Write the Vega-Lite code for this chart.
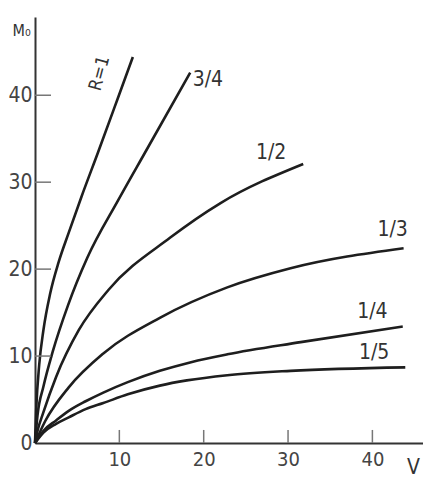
{
  "$schema": "https://vega.github.io/schema/vega-lite/v6.json",
  "width": 388,
  "height": 426,
  "autosize": {"type": "none"},
  "padding": {"left": 35, "top": 17, "right": 0, "bottom": 38},
  "background": "white",
  "config": {
    "view": {"stroke": null},
    "font": "DejaVu Sans Condensed, sans-serif"
  },
  "datasets": {
    "curves": [
      {"R": "1", "V": 0, "M": 0},
      {"R": "1", "V": 0.15, "M": 4},
      {"R": "1", "V": 0.5, "M": 9},
      {"R": "1", "V": 1.0, "M": 13},
      {"R": "1", "V": 1.8, "M": 17.2},
      {"R": "1", "V": 2.8, "M": 20.8},
      {"R": "1", "V": 4.0, "M": 24.2},
      {"R": "1", "V": 5.5, "M": 28.3},
      {"R": "1", "V": 7.5, "M": 33.5},
      {"R": "1", "V": 9.8, "M": 39.6},
      {"R": "1", "V": 11.6, "M": 44.4},
      {"R": "3/4", "V": 0, "M": 0},
      {"R": "3/4", "V": 0.3, "M": 3.2},
      {"R": "3/4", "V": 1.0, "M": 6.5},
      {"R": "3/4", "V": 2.1, "M": 10.5},
      {"R": "3/4", "V": 3.9, "M": 15.8},
      {"R": "3/4", "V": 6.2, "M": 21.3},
      {"R": "3/4", "V": 9.85, "M": 27.9},
      {"R": "3/4", "V": 13.1, "M": 33.5},
      {"R": "3/4", "V": 18.4, "M": 42.6},
      {"R": "1/2", "V": 0, "M": 0},
      {"R": "1/2", "V": 0.3, "M": 1.4},
      {"R": "1/2", "V": 0.95, "M": 3.4},
      {"R": "1/2", "V": 2.5, "M": 7.6},
      {"R": "1/2", "V": 5.2, "M": 13.0},
      {"R": "1/2", "V": 8.7, "M": 17.6},
      {"R": "1/2", "V": 16.0, "M": 23.6},
      {"R": "1/2", "V": 22.0, "M": 27.6},
      {"R": "1/2", "V": 31.8, "M": 32.1},
      {"R": "1/3", "V": 0, "M": 0},
      {"R": "1/3", "V": 1.2, "M": 2.5},
      {"R": "1/3", "V": 4.0, "M": 6.4},
      {"R": "1/3", "V": 8.1, "M": 10.3},
      {"R": "1/3", "V": 14.8, "M": 14.4},
      {"R": "1/3", "V": 22.8, "M": 17.9},
      {"R": "1/3", "V": 30.3, "M": 20.1},
      {"R": "1/3", "V": 43.7, "M": 22.4},
      {"R": "1/4", "V": 0, "M": 0},
      {"R": "1/4", "V": 1.0, "M": 1.4},
      {"R": "1/4", "V": 2.5, "M": 2.6},
      {"R": "1/4", "V": 4.0, "M": 3.7},
      {"R": "1/4", "V": 6.0, "M": 4.8},
      {"R": "1/4", "V": 8.1, "M": 5.8},
      {"R": "1/4", "V": 11.0, "M": 7.0},
      {"R": "1/4", "V": 14.8, "M": 8.3},
      {"R": "1/4", "V": 18.5, "M": 9.3},
      {"R": "1/4", "V": 22.8, "M": 10.2},
      {"R": "1/4", "V": 31.5, "M": 11.6},
      {"R": "1/4", "V": 43.6, "M": 13.4},
      {"R": "1/5", "V": 0, "M": 0},
      {"R": "1/5", "V": 1.0, "M": 1.2},
      {"R": "1/5", "V": 2.5, "M": 2.2},
      {"R": "1/5", "V": 4.0, "M": 2.95},
      {"R": "1/5", "V": 6.0, "M": 3.9},
      {"R": "1/5", "V": 8.1, "M": 4.6},
      {"R": "1/5", "V": 11.0, "M": 5.6},
      {"R": "1/5", "V": 14.8, "M": 6.6},
      {"R": "1/5", "V": 18.0, "M": 7.2},
      {"R": "1/5", "V": 22.8, "M": 7.8},
      {"R": "1/5", "V": 30.3, "M": 8.3},
      {"R": "1/5", "V": 43.9, "M": 8.7}
    ],
    "labels": [
      {"label": "R=1", "V": 7.7, "M": 42.5},
      {"label": "3/4", "V": 20.5, "M": 41.7},
      {"label": "1/2", "V": 28.0, "M": 33.3},
      {"label": "1/3", "V": 42.4, "M": 24.5},
      {"label": "1/4", "V": 40.0, "M": 15.1},
      {"label": "1/5", "V": 40.2, "M": 10.3}
    ],
    "xticks": [{"V": 10, "y0": 0, "y1": 1.5}, {"V": 20, "y0": 0, "y1": 1.5}, {"V": 30, "y0": 0, "y1": 1.5}, {"V": 40, "y0": 0, "y1": 1.5}],
    "yticks": [{"M": 10, "x0": 0, "x1": 1.9}, {"M": 20, "x0": 0, "x1": 1.9}, {"M": 30, "x0": 0, "x1": 1.9}, {"M": 40, "x0": 0, "x1": 1.9}]
  },
  "layer": [
    {
      "data": {"name": "curves"},
      "mark": {"type": "line", "color": "#1e1e1e", "strokeWidth": 2.6, "interpolate": "monotone"},
      "encoding": {
        "x": {
          "field": "V", "type": "quantitative",
          "scale": {"domain": [0, 46], "nice": false},
          "axis": {
            "values": [10, 20, 30, 40], "grid": false, "title": "V", "ticks": false,
            "domainColor": "#333", "domainWidth": 2,
            "labelPadding": 6, "labelFontSize": 20, "labelColor": "#444",
            "titleFontSize": 21, "titleFontWeight": "normal", "titleColor": "#333",
            "titleX": 378, "titleY": 30, "titleBaseline": "alphabetic", "titleAlign": "center"
          }
        },
        "y": {
          "field": "M", "type": "quantitative",
          "scale": {"domain": [0, 49], "nice": false},
          "axis": {
            "values": [0, 10, 20, 30, 40], "grid": false, "title": "M₀", "ticks": false,
            "domainColor": "#333", "domainWidth": 2,
            "labelPadding": 3, "labelFontSize": 21, "labelColor": "#444",
            "labelBaseline": "middle",
            "titleAngle": 0, "titleFontSize": 16, "titleFontWeight": "normal", "titleColor": "#333",
            "titleX": -23, "titleY": 18, "titleAlign": "left", "titleBaseline": "alphabetic"
          }
        },
        "detail": {"field": "R"}
      }
    },
    {
      "data": {"name": "xticks"},
      "mark": {"type": "rule", "color": "#777", "strokeWidth": 1.5},
      "encoding": {
        "x": {"field": "V", "type": "quantitative"},
        "y": {"field": "y0", "type": "quantitative"},
        "y2": {"field": "y1"}
      }
    },
    {
      "data": {"name": "yticks"},
      "mark": {"type": "rule", "color": "#777", "strokeWidth": 1.5},
      "encoding": {
        "y": {"field": "M", "type": "quantitative"},
        "x": {"field": "x0", "type": "quantitative"},
        "x2": {"field": "x1"}
      }
    },
    {
      "data": {"name": "labels"},
      "transform": [{"filter": "datum.label !== 'R=1'"}],
      "mark": {"type": "text", "fontSize": 21, "color": "#333", "align": "center", "baseline": "middle"},
      "encoding": {
        "x": {"field": "V", "type": "quantitative"},
        "y": {"field": "M", "type": "quantitative"},
        "text": {"field": "label"}
      }
    },
    {
      "data": {"name": "labels"},
      "transform": [{"filter": "datum.label === 'R=1'"}],
      "mark": {"type": "text", "fontSize": 18, "color": "#333", "align": "center", "baseline": "middle", "angle": -75},
      "encoding": {
        "x": {"field": "V", "type": "quantitative"},
        "y": {"field": "M", "type": "quantitative"},
        "text": {"field": "label"}
      }
    }
  ]
}
